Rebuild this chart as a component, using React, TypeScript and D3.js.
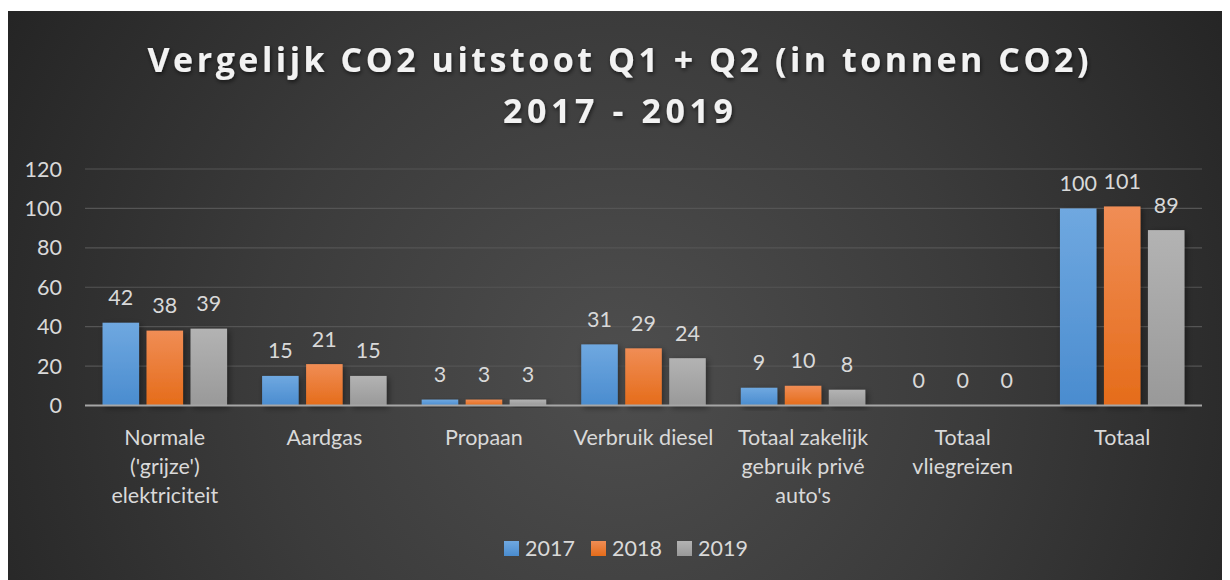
import React from "react";
import * as d3 from "d3";

const categories = [
  "Normale\n('grijze')\nelektriciteit",
  "Aardgas",
  "Propaan",
  "Verbruik diesel",
  "Totaal zakelijk\ngebruik privé\nauto's",
  "Totaal\nvliegreizen",
  "Totaal",
];
const seriesNames = ["2017", "2018", "2019"];
const values2017 = [42, 15, 3, 31, 9, 0, 100];
const values2018 = [38, 21, 3, 29, 10, 0, 101];
const values2019 = [39, 15, 3, 24, 8, 0, 89];
const yTicks = [0, 20, 40, 60, 80, 100, 120];
const titleLines = ["Vergelijk CO2 uitstoot Q1 + Q2 (in tonnen CO2)", "2017 - 2019"];

const seriesValues = [values2017, values2018, values2019];
const gradIds = ["gBlue", "gOrange", "gGray"];
const FONT = "Lato, 'Open Sans', sans-serif";
const TFONT = "'Open Sans', Lato, sans-serif";
const TXT = "#d9d9d9";
const FS = 21.5;

export default function App() {
  const W = 1230;
  const H = 580;
  const x = d3.scaleBand<string>().domain(categories).range([85, 1202]).paddingInner(0).paddingOuter(0);
  const inner = d3
    .scaleBand<string>()
    .domain(seriesNames)
    .range([(x.bandwidth() - 124.5) / 2, (x.bandwidth() + 124.5) / 2])
    .paddingInner(0.17)
    .paddingOuter(0);
  const y = d3.scaleLinear().domain([0, 120]).range([405.5, 169]);

  const legendX = [504, 591, 677];

  return (
    <svg width={W - 8} height={H - 8} style={{ display: "block" }}>
      <defs>
        <radialGradient id="bg" cx="620" cy="370" r="720" gradientUnits="userSpaceOnUse">
          <stop offset="0" stopColor="#4e4e4e" />
          <stop offset="0.5" stopColor="#3b3b3b" />
          <stop offset="1" stopColor="#242424" />
        </radialGradient>
        <linearGradient id="gBlue" x1="0" y1="0" x2="0" y2="1">
          <stop offset="0" stopColor="#6fa8e0" />
          <stop offset="1" stopColor="#4a8ccf" />
        </linearGradient>
        <linearGradient id="gOrange" x1="0" y1="0" x2="0" y2="1">
          <stop offset="0" stopColor="#f08d55" />
          <stop offset="1" stopColor="#e56c1a" />
        </linearGradient>
        <linearGradient id="gGray" x1="0" y1="0" x2="0" y2="1">
          <stop offset="0" stopColor="#b3b3b3" />
          <stop offset="1" stopColor="#999999" />
        </linearGradient>
        <filter id="shadow" x="-20%" y="-20%" width="150%" height="150%">
          <feDropShadow dx="2" dy="2" stdDeviation="3" floodColor="#000" floodOpacity="0.45" />
        </filter>
        <filter id="tshadow" x="-10%" y="-30%" width="120%" height="160%">
          <feDropShadow dx="1" dy="2" stdDeviation="2" floodColor="#000" floodOpacity="0.6" />
        </filter>
      </defs>
      <g transform="translate(-8,-8)">
        <rect x={8} y={11} width={W} height={H} fill="url(#bg)" />
        {titleLines.map((t, i) => (
          <text
            key={i}
            x={618}
            y={72 + i * 51}
            textAnchor="middle"
            fontFamily={TFONT}
            fontWeight="bold"
            fontSize={34}
            fill="#f2f2f2"
            textLength={i === 0 ? 941 : 230}
            lengthAdjust="spacing"
            filter="url(#tshadow)"
          >
            {t}
          </text>
        ))}
        {yTicks.map((t) => (
          <g key={t}>
            <line x1={85} x2={1202} y1={y(t)} y2={y(t)} stroke="#555555" strokeWidth={1.2} />
            <text x={62} y={y(t)} dy="0.35em" textAnchor="end" fontFamily={FONT} fontSize={FS} fill={TXT}>
              {t}
            </text>
          </g>
        ))}
        {categories.map((c, ci) => (
          <g key={c} transform={`translate(${x(c)},0)`}>
            {seriesNames.map((s, si) => {
              const v = seriesValues[si][ci];
              const bx = inner(s)!;
              return (
                <g key={s}>
                  {v > 0 && (
                    <rect
                      x={bx}
                      y={y(v)}
                      width={inner.bandwidth()}
                      height={y(0) - y(v)}
                      fill={`url(#${gradIds[si]})`}
                      filter="url(#shadow)"
                    />
                  )}
                  <text
                    x={bx + inner.bandwidth() / 2}
                    y={y(v) - 25}
                    dy="0.35em"
                    textAnchor="middle"
                    fontFamily={FONT}
                    fontSize={FS}
                    fill={TXT}
                  >
                    {v}
                  </text>
                </g>
              );
            })}
            {c.split("\n").map((line, li) => (
              <text
                key={li}
                x={x.bandwidth() / 2}
                y={437 + li * 29}
                dy="0.35em"
                textAnchor="middle"
                fontFamily={FONT}
                fontSize={FS}
                fill={TXT}
              >
                {line}
              </text>
            ))}
          </g>
        ))}
        <line x1={85} x2={1202} y1={y(0)} y2={y(0)} stroke="#a6a6a6" strokeWidth={2} />
        {seriesNames.map((s, si) => (
          <g key={s}>
            <rect x={legendX[si]} y={541} width={15} height={15} fill={`url(#${gradIds[si]})`} />
            <text x={legendX[si] + 21} y={548.5} dy="0.35em" fontFamily={FONT} fontSize={FS} fill={TXT}>
              {s}
            </text>
          </g>
        ))}
      </g>
    </svg>
  );
}
